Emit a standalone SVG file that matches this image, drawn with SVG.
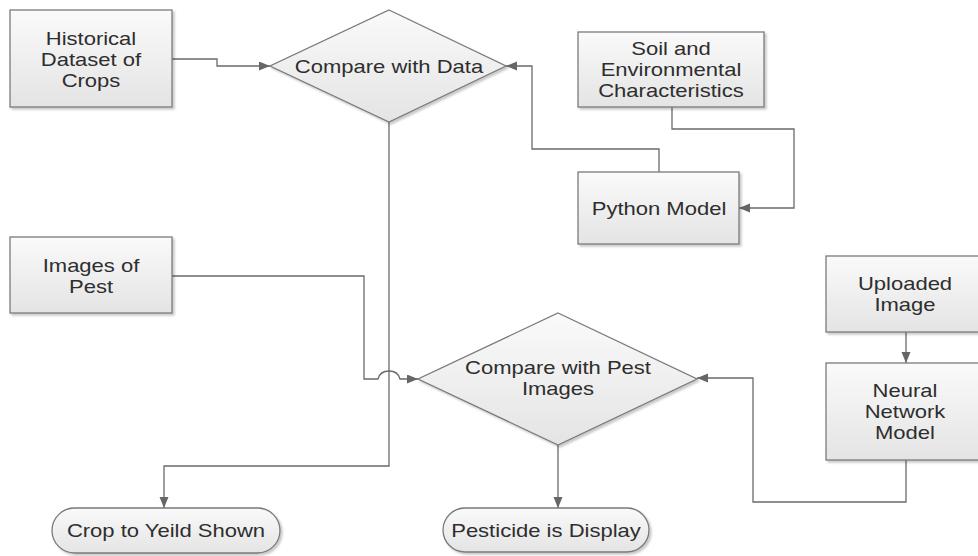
<svg xmlns="http://www.w3.org/2000/svg" width="978" height="556" viewBox="0 0 978 556">
<defs>
<linearGradient id="g" x1="0" y1="0" x2="0" y2="1">
<stop offset="0" stop-color="#fafafa"/>
<stop offset="1" stop-color="#e4e4e4"/>
</linearGradient>
<filter id="sh" x="-10%" y="-10%" width="130%" height="130%">
<feDropShadow dx="2" dy="2" stdDeviation="1.2" flood-color="#000" flood-opacity="0.22"/>
</filter>
<marker id="ah" markerUnits="userSpaceOnUse" markerWidth="12" markerHeight="10" refX="11" refY="4.5" orient="auto">
<path d="M0,0 L11,4.5 L0,9 z" fill="#666"/>
</marker>
<style>
.n{fill:url(#g);stroke:#7a7a7a;stroke-width:1.3;filter:url(#sh)}
.t{font-family:"Liberation Sans",Arial,sans-serif;font-size:18.5px;fill:#2e2e2e;text-anchor:middle}
.c{fill:none;stroke:#6a6a6a;stroke-width:1.3}
</style>
</defs>
<rect width="978" height="556" fill="#fff"/>
<g id="connectors">
<path class="c" d="M172,59 H217 V66 H270" marker-end="url(#ah)"/>
<path class="c" d="M659,172 V149 H532 V66 H506" marker-end="url(#ah)"/>
<path class="c" d="M672,107 V129 H794 V208 H739" marker-end="url(#ah)"/>
<path class="c" d="M389,122 V466 H164 V508" marker-end="url(#ah)"/>
<path class="c" d="M172,276 H364 V379 H378 Q380,371 389,371 Q398,371 400,379 H418" marker-end="url(#ah)"/>
<path class="c" d="M906,332 V363" marker-end="url(#ah)"/>
<path class="c" d="M906,460 V502 H753 V378 H697" marker-end="url(#ah)"/>
<path class="c" d="M558,445 V508" marker-end="url(#ah)"/>
</g>
<g id="historical">
<rect class="n" x="10" y="10" width="162" height="97"/>
<text class="t" transform="translate(91 44.5) scale(1.19 1)">Historical</text>
<text class="t" transform="translate(91 65.5) scale(1.19 1)">Dataset of</text>
<text class="t" transform="translate(91 86.5) scale(1.19 1)">Crops</text>
</g>
<g id="compareData">
<polygon class="n" points="389,10 506,66 389,122 270,66"/>
<text class="t" transform="translate(389 72.5) scale(1.19 1)">Compare with Data</text>
</g>
<g id="soil">
<rect class="n" x="578" y="32" width="186" height="75"/>
<text class="t" transform="translate(671 54.5) scale(1.19 1)">Soil and</text>
<text class="t" transform="translate(671 75.5) scale(1.19 1)">Environmental</text>
<text class="t" transform="translate(671 96.5) scale(1.19 1)">Characteristics</text>
</g>
<g id="python">
<rect class="n" x="578" y="172" width="161" height="72"/>
<text class="t" transform="translate(659 214.5) scale(1.19 1)">Python Model</text>
</g>
<g id="pestImages">
<rect class="n" x="10" y="237" width="162" height="76"/>
<text class="t" transform="translate(91 271.5) scale(1.19 1)">Images of</text>
<text class="t" transform="translate(91 292.5) scale(1.19 1)">Pest</text>
</g>
<g id="uploaded">
<rect class="n" x="826" y="256" width="162" height="76"/>
<text class="t" transform="translate(905 289.5) scale(1.19 1)">Uploaded</text>
<text class="t" transform="translate(905 310.5) scale(1.19 1)">Image</text>
</g>
<g id="neural">
<rect class="n" x="826" y="363" width="162" height="97"/>
<text class="t" transform="translate(905 396.5) scale(1.19 1)">Neural</text>
<text class="t" transform="translate(905 417.5) scale(1.19 1)">Network</text>
<text class="t" transform="translate(905 438.5) scale(1.19 1)">Model</text>
</g>
<g id="comparePest">
<polygon class="n" points="558,313 697,379 558,445 418,379"/>
<text class="t" transform="translate(558 374) scale(1.19 1)">Compare with Pest</text>
<text class="t" transform="translate(558 395) scale(1.19 1)">Images</text>
</g>
<g id="cropYield">
<rect class="n" x="52" y="508" width="228" height="45" rx="22.5"/>
<text class="t" transform="translate(166 536.5) scale(1.19 1)">Crop to Yeild Shown</text>
</g>
<g id="pesticide">
<rect class="n" x="443" y="508" width="206" height="44" rx="22"/>
<text class="t" transform="translate(546 536.5) scale(1.19 1)">Pesticide is Display</text>
</g>
</svg>
